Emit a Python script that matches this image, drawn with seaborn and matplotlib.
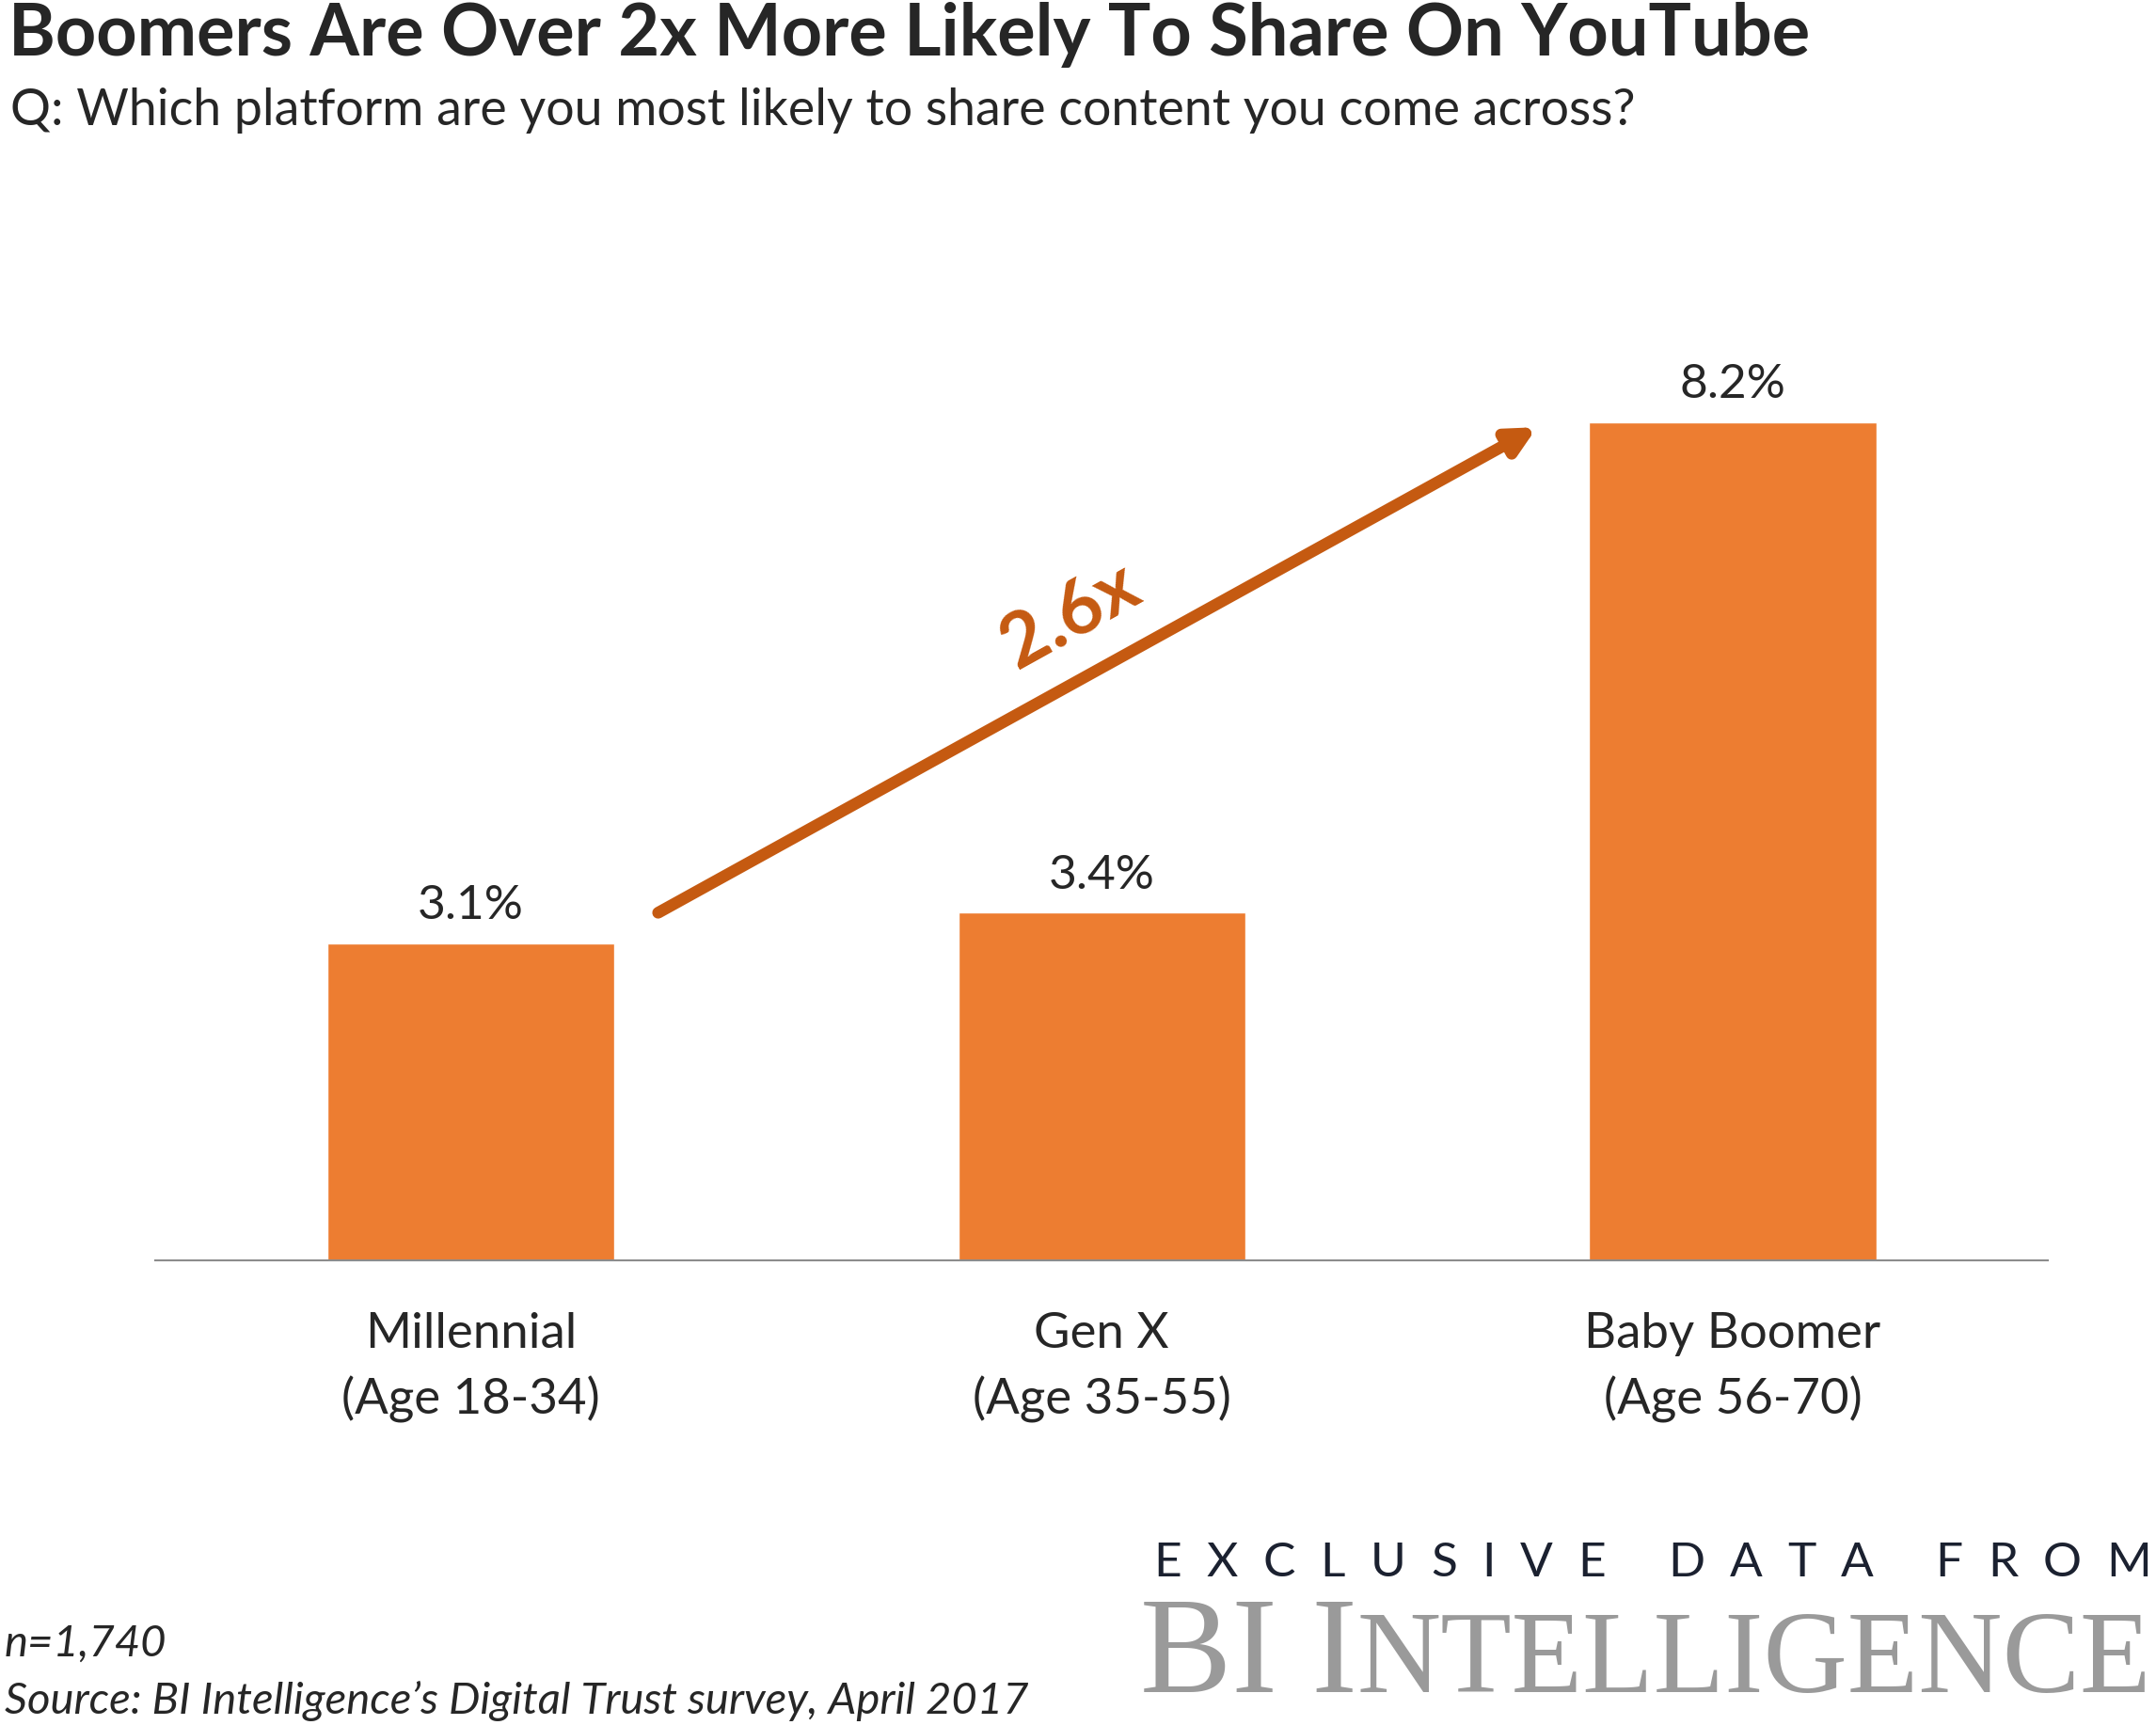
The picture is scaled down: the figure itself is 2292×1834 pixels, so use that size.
import matplotlib
matplotlib.use("Agg")
import matplotlib.pyplot as plt
import seaborn as sns
import pandas as pd

# data
categories = ["Millennial\n(Age 18-34)", "Gen X\n(Age 35-55)", "Baby Boomer\n(Age 56-70)"]
share_pct = [3.1, 3.4, 8.2]
multiplier_label = "2.6x"

title = "Boomers Are Over 2x More Likely To Share On YouTube"
subtitle = "Q: Which platform are you most likely to share content you come across?"
note_n = "n=1,740"
note_source = "Source: BI Intelligence\u2019s Digital Trust survey, April 2017"

BAR_COLOR = "#ED7D31"
ARROW_COLOR = "#C55A11"

sns.set_theme(style="white")
plt.rcParams["font.family"] = ["Lato", "DejaVu Sans"]

df = pd.DataFrame({"generation": categories, "share": share_pct})

fig = plt.figure(figsize=(22.92, 18.34), dpi=100)
ax = fig.add_axes([0.072, 0.2694, 0.878, 0.56])

sns.barplot(data=df, x="generation", y="share", color=BAR_COLOR,
            width=0.455, saturation=1, ax=ax)

ax.set_xlim(-0.5, 2.5)
ax.set_ylim(0, 9.45)
ax.set_xlabel("")
ax.set_ylabel("")
ax.set_yticks([])
sns.despine(ax=ax, left=True)
ax.spines["bottom"].set_color("#8c8c8c")
ax.spines["bottom"].set_linewidth(1.5)
ax.tick_params(axis="x", length=0, pad=40, labelsize=38)
for lbl in ax.get_xticklabels():
    lbl.set_linespacing(1.5)

ax.bar_label(ax.containers[0], fmt="%.1f%%", padding=12, fontsize=37)

# growth arrow from millennial to boomer
ax.annotate("", xy=(1.69, 8.15), xytext=(0.297, 3.4),
            arrowprops=dict(arrowstyle="-|>,head_length=1.4,head_width=0.7",
                            color=ARROW_COLOR, lw=9, shrinkA=0, shrinkB=0))
ax.text(0.95, 6.3, multiplier_label, color=ARROW_COLOR, fontsize=58,
        fontweight="bold", rotation=29, ha="center", va="center")

fig.text(0.004, 0.999, title, fontsize=54.5, fontweight="bold", va="top", ha="left")
fig.text(0.005, 0.936, subtitle, fontsize=38.7, va="center", ha="left")

fig.text(0.002, 0.047, note_n, fontsize=34, style="italic", va="center", ha="left")
fig.text(0.002, 0.014, note_source, fontsize=34, style="italic", va="center", ha="left")

# logo: tracked caps line, laid out one letter at a time
fig.canvas.draw()
renderer = fig.canvas.get_renderer()
tag = "EXCLUSIVE DATA FROM"
track = 26.5
widths = []
for ch in tag:
    t = fig.text(0, 0, ch if ch != " " else "n", fontsize=37)
    w = t.get_window_extent(renderer).width
    t.remove()
    widths.append(w * 0.45 if ch == " " else w)
total = sum(widths) + track * (len(tag) - 1)
x = fig.bbox.width * 0.998 - total
for ch, w in zip(tag, widths):
    if ch != " ":
        fig.text(x / fig.bbox.width, 0.094, ch, fontsize=37, color="#1b2130",
                 va="center", ha="left")
    x += w + track

small = fig.text(0.998, 0.019, "NTELLIGENCE", fontsize=89, color="#9a9a9a",
                 family="Liberation Serif", va="baseline", ha="right")
sbox = small.get_window_extent(renderer)
fig.text(sbox.x0 / fig.bbox.width, 0.019, "BI I", fontsize=105, color="#9a9a9a",
         family="Liberation Serif", va="baseline", ha="right")

fig.savefig("out.png", dpi=100, facecolor="white")
